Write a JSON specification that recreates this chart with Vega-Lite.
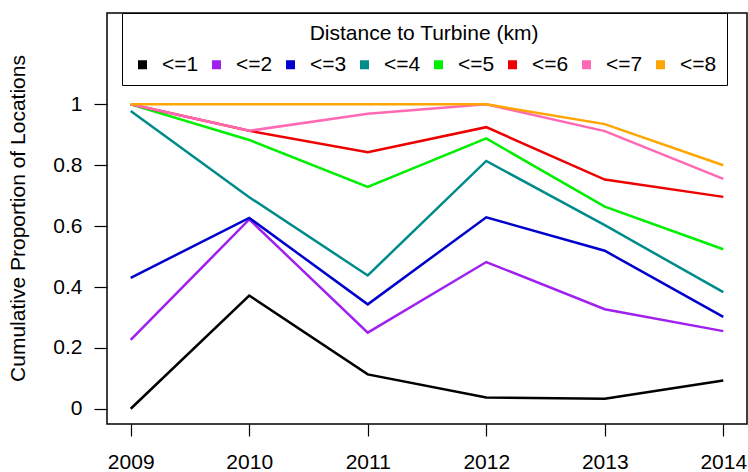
{
  "$schema": "https://vega.github.io/schema/vega-lite/v6.json",
  "width": 640,
  "height": 411,
  "autosize": {"type": "none"},
  "padding": {"left": 107, "top": 13, "right": 1, "bottom": 48},
  "config": {
    "font": "Liberation Sans",
    "view": {"stroke": "black", "strokeWidth": 1.5},
    "axis": {
      "grid": false,
      "domain": false,
      "tickColor": "black",
      "tickWidth": 1.2,
      "tickSize": 12,
      "labelFontSize": 21,
      "labelColor": "black",
      "titleFontSize": 21,
      "titleFontWeight": "normal",
      "titleColor": "black"
    },
    "legend": {
      "labelFontSize": 21,
      "labelColor": "black",
      "titleFontSize": 21,
      "titleFontWeight": "normal",
      "titleColor": "black",
      "titleLimit": 600
    }
  },
  "data": {
    "values": [
      {"year": 2009, "dist": "<=1", "prop": 0.0},
      {"year": 2010, "dist": "<=1", "prop": 0.372},
      {"year": 2011, "dist": "<=1", "prop": 0.113},
      {"year": 2012, "dist": "<=1", "prop": 0.037},
      {"year": 2013, "dist": "<=1", "prop": 0.033},
      {"year": 2014, "dist": "<=1", "prop": 0.093},
      {"year": 2009, "dist": "<=2", "prop": 0.226},
      {"year": 2010, "dist": "<=2", "prop": 0.622},
      {"year": 2011, "dist": "<=2", "prop": 0.25},
      {"year": 2012, "dist": "<=2", "prop": 0.482},
      {"year": 2013, "dist": "<=2", "prop": 0.327},
      {"year": 2014, "dist": "<=2", "prop": 0.255},
      {"year": 2009, "dist": "<=3", "prop": 0.43},
      {"year": 2010, "dist": "<=3", "prop": 0.627},
      {"year": 2011, "dist": "<=3", "prop": 0.343},
      {"year": 2012, "dist": "<=3", "prop": 0.629},
      {"year": 2013, "dist": "<=3", "prop": 0.519},
      {"year": 2014, "dist": "<=3", "prop": 0.302},
      {"year": 2009, "dist": "<=4", "prop": 0.978},
      {"year": 2010, "dist": "<=4", "prop": 0.695},
      {"year": 2011, "dist": "<=4", "prop": 0.438},
      {"year": 2012, "dist": "<=4", "prop": 0.814},
      {"year": 2013, "dist": "<=4", "prop": 0.603},
      {"year": 2014, "dist": "<=4", "prop": 0.383},
      {"year": 2009, "dist": "<=5", "prop": 1.0},
      {"year": 2010, "dist": "<=5", "prop": 0.883},
      {"year": 2011, "dist": "<=5", "prop": 0.729},
      {"year": 2012, "dist": "<=5", "prop": 0.888},
      {"year": 2013, "dist": "<=5", "prop": 0.664},
      {"year": 2014, "dist": "<=5", "prop": 0.524},
      {"year": 2009, "dist": "<=6", "prop": 1.0},
      {"year": 2010, "dist": "<=6", "prop": 0.913},
      {"year": 2011, "dist": "<=6", "prop": 0.843},
      {"year": 2012, "dist": "<=6", "prop": 0.925},
      {"year": 2013, "dist": "<=6", "prop": 0.753},
      {"year": 2014, "dist": "<=6", "prop": 0.696},
      {"year": 2009, "dist": "<=7", "prop": 1.0},
      {"year": 2010, "dist": "<=7", "prop": 0.913},
      {"year": 2011, "dist": "<=7", "prop": 0.969},
      {"year": 2012, "dist": "<=7", "prop": 1.0},
      {"year": 2013, "dist": "<=7", "prop": 0.912},
      {"year": 2014, "dist": "<=7", "prop": 0.755},
      {"year": 2009, "dist": "<=8", "prop": 1.0},
      {"year": 2010, "dist": "<=8", "prop": 1.0},
      {"year": 2011, "dist": "<=8", "prop": 1.0},
      {"year": 2012, "dist": "<=8", "prop": 1.0},
      {"year": 2013, "dist": "<=8", "prop": 0.935},
      {"year": 2014, "dist": "<=8", "prop": 0.8}
    ]
  },
  "mark": {"type": "line", "strokeWidth": 2.5},
  "encoding": {
    "x": {
      "field": "year",
      "type": "quantitative",
      "scale": {"domain": [2008.8, 2014.2], "nice": false, "zero": false},
      "axis": {
        "title": null,
        "values": [2009, 2010, 2011, 2012, 2013, 2014],
        "format": "d",
        "labelPadding": 15,
        "labelFlush": false
      }
    },
    "y": {
      "field": "prop",
      "type": "quantitative",
      "scale": {"domain": [-0.05, 1.3], "nice": false, "zero": false},
      "axis": {
        "title": "Cumulative Proportion of Locations",
        "values": [0, 0.2, 0.4, 0.6, 0.8, 1],
        "format": "~g",
        "tickSize": 13,
        "labelPadding": 12,
        "titleX": -89,
        "titleY": 205,
        "titleAngle": -90,
        "titleBaseline": "middle",
        "titleAlign": "center"
      }
    },
    "color": {
      "field": "dist",
      "type": "nominal",
      "title": "Distance to Turbine (km)",
      "scale": {
        "domain": ["<=1", "<=2", "<=3", "<=4", "<=5", "<=6", "<=7", "<=8"],
        "range": ["#000000", "#A020F0", "#0000CD", "#008B8B", "#00EE00", "#EE0000", "#FF69B4", "#FFA500"]
      },
      "legend": {
        "orient": "none",
        "legendX": 15,
        "legendY": 0,
        "direction": "horizontal",
        "columns": 8,
        "symbolType": "square",
        "symbolSize": 81,
        "symbolStrokeWidth": 0,
        "symbolOpacity": 1,
        "labelOffset": 9,
        "columnPadding": 7,
        "padding": 10,
        "titlePadding": 10,
        "titleAnchor": "middle",
        "strokeColor": "black",
        "fillColor": "white",
        "encode": {
          "symbols": {
            "update": {
              "fill": {"scale": "color", "field": "value"},
              "stroke": {"value": "transparent"}
            }
          }
        }
      }
    }
  }
}
